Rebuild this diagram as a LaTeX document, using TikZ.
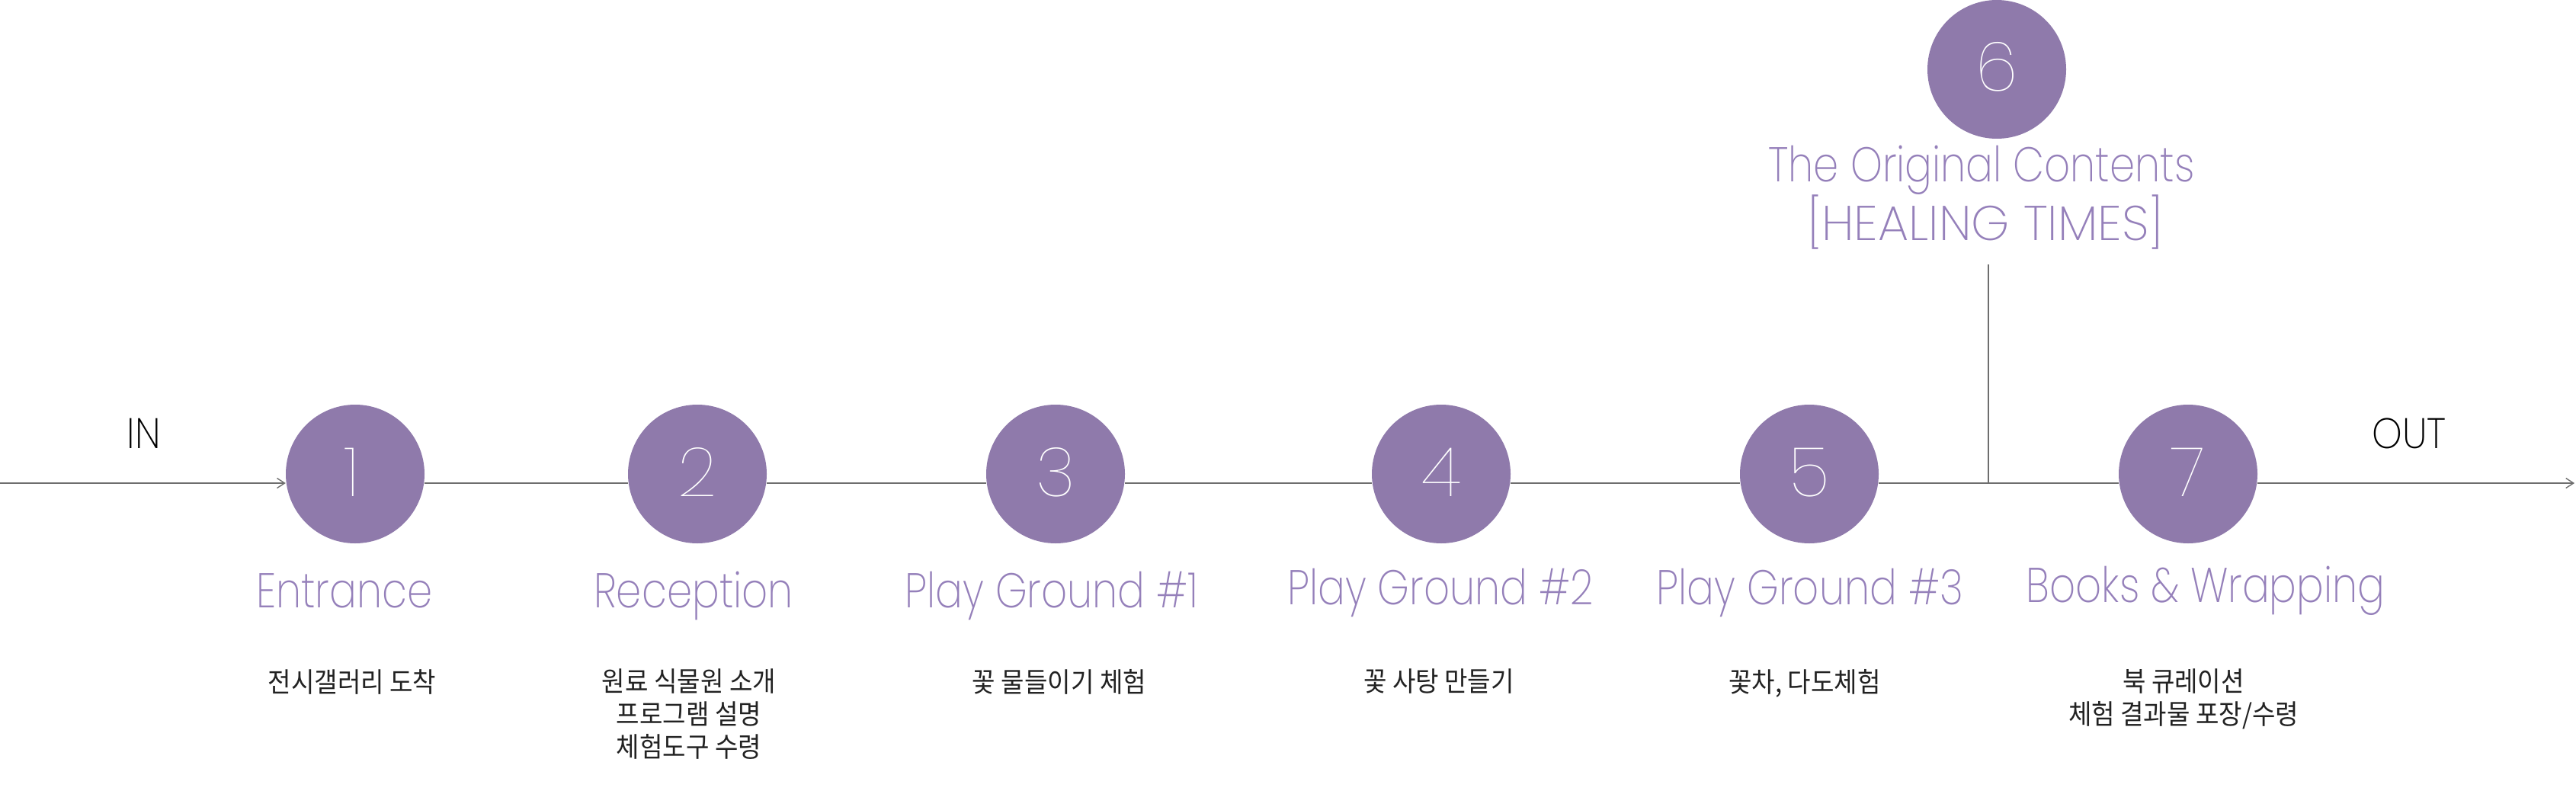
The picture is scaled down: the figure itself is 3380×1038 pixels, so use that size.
\documentclass[tikz,border=0pt]{standalone}
\usepackage{fontspec}
\usetikzlibrary{arrows.meta,backgrounds}
\IfFontExistsTF{Poppins Thin}{\newfontfamily\thinf{Poppins Thin}}{\newfontfamily\thinf{Poppins Light}}
\IfFontExistsTF{Poppins ExtraLight}{%
  \newfontfamily\thinnf{Poppins ExtraLight}[FakeStretch=0.83]%
  \newfontfamily\thinwf{Poppins ExtraLight}[FakeStretch=1.0]%
  \newfontfamily\iof{Poppins ExtraLight}[FakeStretch=0.9]}{%
  \newfontfamily\thinnf{Poppins Light}[FakeStretch=0.83]%
  \newfontfamily\thinwf{Poppins Light}[FakeStretch=1.0]%
  \newfontfamily\iof{Poppins Light}[FakeStretch=0.9]}
\newfontfamily\krf{Noto Sans CJK KR}[FakeStretch=0.92]
\definecolor{circ}{HTML}{8F7AAB}
\definecolor{labc}{HTML}{9580BA}
\definecolor{krc}{HTML}{222222}
\definecolor{linec}{HTML}{6E6E6E}
\tikzset{
  stopcirc/.style={circle, fill=circ, minimum size=182pt, inner sep=0pt},
  numtxt/.style={text=white, font=\thinf\fontsize{90}{90}\selectfont, anchor=base, inner sep=0pt},
  labtxt/.style={text=labc, font=\thinnf\fontsize{64}{70}\selectfont, anchor=base, inner sep=0pt},
  labwide/.style={labtxt, font=\thinwf\fontsize{64}{70}\selectfont},
  krtxt/.style={text=krc, font=\krf\fontsize{36}{43}\selectfont, align=center, anchor=north, inner sep=0pt},
  iotxt/.style={text=black, font=\iof\fontsize{56}{56}\selectfont, anchor=base, inner sep=0pt},
  conn/.style={draw=linec, line width=1.6pt},
  arr/.style={conn, -{Straight Barb[length=10pt,width=13pt,line width=1.4pt]}},
}
\begin{document}
\begin{tikzpicture}[x=1pt,y=-1pt]
\useasboundingbox (0,0) rectangle (3380,1038);
% circles
\node[stopcirc] (c1) at (466,622) {};
\node[stopcirc] (c2) at (915,622) {};
\node[stopcirc] (c3) at (1385,622) {};
\node[stopcirc] (c4) at (1891,622) {};
\node[stopcirc] (c5) at (2374,622) {};
\node[stopcirc] (c6) at (2620,91) {};
\node[stopcirc] (c7) at (2871,622) {};
% numbers
\node[numtxt] (n1) at (462,651) {1};
\node[numtxt] (n2) at (915,651) {2};
\node[numtxt] (n3) at (1385,651) {3};
\node[numtxt] (n4) at (1891,651) {4};
\node[numtxt] (n5) at (2374,651) {5};
\node[numtxt] (n6) at (2620,120) {6};
\node[numtxt] (n7) at (2871,651) {7};
% titles
\node[labtxt] (l1) at (452,797) {Entrance};
\node[labtxt] (l2) at (910,797) {Reception};
\node[labtxt] (l3) at (1380,797) {Play Ground \#1};
\node[labtxt] (l4) at (1890,793) {Play Ground \#2};
\node[labtxt] (l5) at (2375,793) {Play Ground \#3};
\node[labtxt] (l6a) at (2600,238) {The Original Contents};
\node[labwide] (l6b) at (2605,315) {[HEALING TIMES]};
\node[labtxt] (l7) at (2894,790) {Books \& Wrapping};
% korean descriptions
\node[krtxt] (k1) at (462,878) {전시갤러리 도착};
\node[krtxt] (k2) at (904,878) {원료 식물원 소개\\프로그램 설명\\체험도구 수령};
\node[krtxt] (k3) at (1390,878) {꽃 물들이기 체험};
\node[krtxt] (k4) at (1888,878) {꽃 사탕 만들기};
\node[krtxt] (k5) at (2368,878) {꽃차, 다도체험};
\node[krtxt] (k7) at (2865,878) {북 큐레이션\\체험 결과물 포장/수령};
% in / out
\node[iotxt] (in) at (189,588) {IN};
\node[iotxt] (out) at (3161,588) {OUT};
% connector coordinates
\coordinate (start) at (0,634);
\coordinate (finish) at (3378,634);
\coordinate (jn) at (2609,634);
\coordinate (vtop) at (2609,347);
\begin{scope}[on background layer]
\draw[arr] (start) -- (start -| c1.west);
\draw[conn] (c1.east |- start) -- (c2.west |- start);
\draw[conn] (c2.east |- start) -- (c3.west |- start);
\draw[conn] (c3.east |- start) -- (c4.west |- start);
\draw[conn] (c4.east |- start) -- (c5.west |- start);
\draw[conn] (c5.east |- start) -- (c7.west |- start);
\draw[arr] (c7.east |- start) -- (finish);
\draw[draw=linec, line width=1.3pt] (vtop) -- (jn);
\end{scope}
\end{tikzpicture}
\end{document}
